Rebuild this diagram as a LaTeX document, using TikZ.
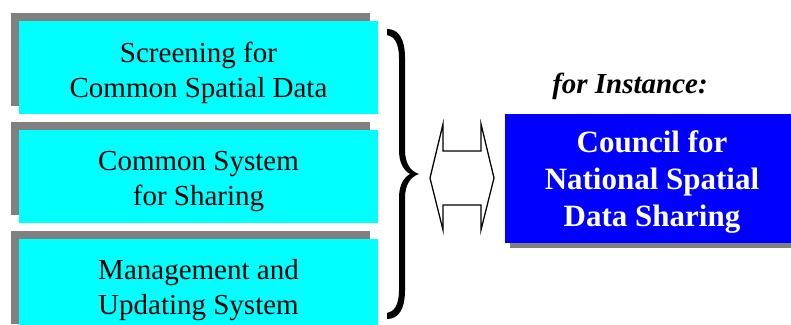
\documentclass[tikz,border=0pt]{standalone}
\usepackage{fontspec}
\setmainfont{Liberation Serif}
\usetikzlibrary{shadows}
\definecolor{boxcyan}{RGB}{0,255,255}
\definecolor{councilblue}{RGB}{0,0,255}
\definecolor{shadowgray}{RGB}{128,128,128}
\begin{document}
\begin{tikzpicture}[x=1pt, y=-1pt,
  cyanbox/.style={fill=boxcyan, minimum width=359pt, minimum height=93pt,
    inner sep=0pt,
    drop shadow={shadow xshift=-8pt, shadow yshift=8pt, fill=shadowgray, opacity=1}},
  boxtext/.style={align=center, text=black, inner sep=0pt,
    font=\fontsize{29}{35}\selectfont},
  councilbox/.style={fill=councilblue, minimum width=310pt, minimum height=129pt,
    inner sep=0pt,
    drop shadow={shadow xshift=5pt, shadow yshift=-5pt, fill=shadowgray, opacity=1}},
  counciltext/.style={align=center, text=white, inner sep=0pt,
    font=\fontsize{31}{37}\selectfont\bfseries},
  labeltext/.style={inner sep=0pt, anchor=base,
    font=\fontsize{29}{35}\selectfont\bfseries\itshape},
  bracestyle/.style={fill=black, draw=none},
  arrowshape/.style={draw=black, fill=white, line width=1.3pt, line join=miter}
]
\useasboundingbox (0,0) rectangle (791,324);
\clip (0,0) rectangle (791,324);

% three task boxes on the left
\node[cyanbox] (b1) at (198.5,67.5) {};
\node[cyanbox] (b2) at (198.5,176.5) {};
\node[cyanbox] (b3) at (198.5,285.5) {};
\node[boxtext] (t1) at ([yshift=-5pt]b1.center) {Screening for\\Common Spatial Data};
\node[boxtext] (t2) at ([yshift=-5pt]b2.center) {Common System\\for Sharing};
\node[boxtext] (t3) at ([yshift=-5pt]b3.center) {Management and\\Updating System};

% curly brace grouping the boxes, drawn as a filled outline
\fill[bracestyle] (387,29) .. controls (398,29) and (405,38) .. (405,58)
  -- (405,150) .. controls (405,163) and (410,171) .. (419,174)
  .. controls (410,177) and (405,185) .. (405,198)
  -- (405,290) .. controls (405,310) and (398,319) .. (387,319)
  -- (387,313) .. controls (394,312) and (399,305) .. (399,290)
  -- (399,198) .. controls (399,186) and (403,178) .. (410,174)
  .. controls (403,170) and (399,162) .. (399,150)
  -- (399,58) .. controls (399,43) and (394,36) .. (387,35) -- cycle;

% hollow double-headed arrow
\draw[arrowshape] (430,178) -- (443,124) -- (443,151) -- (481,151) -- (481,124)
  -- (494,178) -- (481,230) -- (481,205) -- (443,205) -- (443,230) -- cycle;

% example organisation on the right (box runs past the right edge)
\node[labeltext] (inst) at (630,93) {for Instance:};
\node[councilbox] (council) at (660,178.5) {};
\node[counciltext] (ct) at ([xshift=-8pt,yshift=-4pt]council.center)
  {Council for\\National Spatial\\Data Sharing};
\end{tikzpicture}
\end{document}
